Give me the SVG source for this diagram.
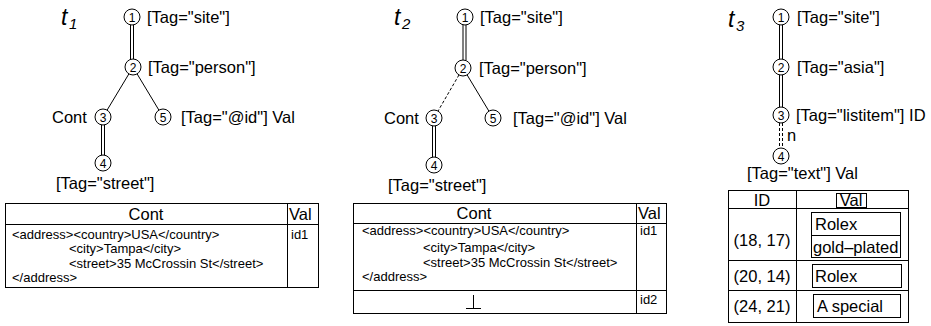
<svg xmlns="http://www.w3.org/2000/svg" width="931" height="326" viewBox="0 0 931 326">
<style>
text{font-family:"Liberation Sans",Arial,sans-serif;fill:#000}
.lbl{font-size:16.5px}
.num{font-size:12px;text-anchor:middle}
.tt{font-size:23px;font-style:italic}
.sub{font-size:15px;font-style:italic}
.cell{font-size:13px}
.hd{font-size:16.5px;text-anchor:middle}
.c{font-size:16.5px;text-anchor:middle}
circle{fill:#fff;stroke:#000;stroke-width:1}
.e{stroke:#000;stroke-width:1;fill:none}
.d{stroke:#000;stroke-width:1;fill:none;stroke-dasharray:3,2}
.b{fill:none;stroke:#000;stroke-width:1}
</style>
<g id="connectors">
<!-- t1 -->
<line class="e" x1="130.5" y1="25" x2="130.5" y2="59"/><line class="e" x1="133.5" y1="25" x2="133.5" y2="59"/>
<line class="e" x1="128.9" y1="73.9" x2="107.1" y2="110.1"/>
<line class="e" x1="137.1" y1="73.9" x2="158.9" y2="110.1"/>
<line class="e" x1="101.5" y1="125" x2="101.5" y2="155"/><line class="e" x1="104.5" y1="125" x2="104.5" y2="155"/>
<!-- t2 -->
<line class="e" x1="463" y1="25" x2="463" y2="60"/><line class="e" x1="466" y1="25" x2="466" y2="60"/>
<line class="d" x1="459" y1="74.9" x2="438" y2="111.1"/>
<line class="e" x1="467.1" y1="74.9" x2="488.9" y2="111.1"/>
<line class="e" x1="432.5" y1="126" x2="432.5" y2="157"/><line class="e" x1="435.5" y1="126" x2="435.5" y2="157"/>
<!-- t3 -->
<line class="e" x1="779.5" y1="25" x2="779.5" y2="59"/><line class="e" x1="782.5" y1="25" x2="782.5" y2="59"/>
<line class="e" x1="779.5" y1="75" x2="779.5" y2="107"/><line class="e" x1="782.5" y1="75" x2="782.5" y2="107"/>
<line class="d" x1="779.5" y1="123" x2="779.5" y2="148"/><line class="d" x1="782.5" y1="123" x2="782.5" y2="148"/>
</g>
<g id="t1">
<text class="tt" x="61" y="25">t</text><text class="sub" x="69" y="29">1</text>
<g id="t1n1"><circle cx="132" cy="17" r="8"/><text class="num" x="132" y="21.5">1</text><text class="lbl" x="147" y="23">[Tag="site"]</text></g>
<g id="t1n2"><circle cx="133" cy="67" r="8"/><text class="num" x="133" y="71.5">2</text><text class="lbl" x="148" y="73">[Tag="person"]</text></g>
<g id="t1n3"><circle cx="103" cy="117" r="8"/><text class="num" x="103" y="121.5">3</text><text class="lbl" x="52" y="123">Cont</text></g>
<g id="t1n5"><circle cx="163" cy="117" r="8"/><text class="num" x="163" y="121.5">5</text><text class="lbl" x="181" y="123">[Tag="@id"] Val</text></g>
<g id="t1n4"><circle cx="103" cy="163" r="8"/><text class="num" x="103" y="167.5">4</text><text class="lbl" x="56" y="189">[Tag="street"]</text></g>
</g>
<g id="t2">
<text class="tt" x="394" y="25">t</text><text class="sub" x="402" y="29">2</text>
<g id="t2n1"><circle cx="465" cy="17" r="8"/><text class="num" x="465" y="21.5">1</text><text class="lbl" x="480" y="23">[Tag="site"]</text></g>
<g id="t2n2"><circle cx="463" cy="68" r="8"/><text class="num" x="463" y="72.5">2</text><text class="lbl" x="479" y="74">[Tag="person"]</text></g>
<g id="t2n3"><circle cx="434" cy="118" r="8"/><text class="num" x="434" y="122.5">3</text><text class="lbl" x="384" y="124">Cont</text></g>
<g id="t2n5"><circle cx="493" cy="118" r="8"/><text class="num" x="493" y="122.5">5</text><text class="lbl" x="513" y="124">[Tag="@id"] Val</text></g>
<g id="t2n4"><circle cx="434" cy="165" r="8"/><text class="num" x="434" y="169.5">4</text><text class="lbl" x="388" y="191">[Tag="street"]</text></g>
</g>
<g id="t3">
<text class="tt" x="728" y="27">t</text><text class="sub" x="736" y="31">3</text>
<g id="t3n1"><circle cx="781" cy="17" r="8"/><text class="num" x="781" y="21.5">1</text><text class="lbl" x="797" y="23">[Tag="site"]</text></g>
<g id="t3n2"><circle cx="781" cy="67" r="8"/><text class="num" x="781" y="71.5">2</text><text class="lbl" x="797" y="73">[Tag="asia"]</text></g>
<g id="t3n3"><circle cx="781" cy="115" r="8"/><text class="num" x="781" y="119.5">3</text><text class="lbl" x="796" y="121">[Tag="listitem"] ID</text><text class="lbl" x="787" y="141">n</text></g>
<g id="t3n4"><circle cx="781" cy="156" r="8"/><text class="num" x="781" y="160.5">4</text><text class="lbl" x="747" y="179">[Tag="text"] Val</text></g>
</g>
<g id="table1">
<rect class="b" x="5.5" y="203.5" width="313" height="84"/>
<line class="e" x1="5.5" y1="224.5" x2="318.5" y2="224.5"/>
<line class="e" x1="287.5" y1="203.5" x2="287.5" y2="287.5"/>
<text class="hd" x="146" y="220">Cont</text>
<text class="lbl" x="289" y="220">Val</text>
<text class="cell" x="12" y="239">&lt;address&gt;&lt;country&gt;USA&lt;/country&gt;</text>
<text class="cell" x="69" y="253">&lt;city&gt;Tampa&lt;/city&gt;</text>
<text class="cell" x="69" y="268">&lt;street&gt;35 McCrossin St&lt;/street&gt;</text>
<text class="cell" x="12" y="282">&lt;/address&gt;</text>
<text class="cell" x="291" y="239">id1</text>
</g>
<g id="table2">
<rect class="b" x="353.5" y="203.5" width="313" height="110"/>
<line class="e" x1="353.5" y1="223.5" x2="666.5" y2="223.5"/>
<line class="e" x1="353.5" y1="290.5" x2="666.5" y2="290.5"/>
<line class="e" x1="636.5" y1="203.5" x2="636.5" y2="313.5"/>
<text class="hd" x="474" y="219">Cont</text>
<text class="lbl" x="638" y="219">Val</text>
<text class="cell" x="362" y="235">&lt;address&gt;&lt;country&gt;USA&lt;/country&gt;</text>
<text class="cell" x="423" y="252">&lt;city&gt;Tampa&lt;/city&gt;</text>
<text class="cell" x="423" y="267">&lt;street&gt;35 McCrossin St&lt;/street&gt;</text>
<text class="cell" x="362" y="281">&lt;/address&gt;</text>
<text class="cell" x="640" y="235">id1</text>
<text class="cell" x="640" y="304">id2</text>
<line class="e" x1="473.5" y1="295" x2="473.5" y2="308"/>
<line class="e" x1="466" y1="308.5" x2="481" y2="308.5"/>
</g>
<g id="table3">
<rect class="b" x="728.5" y="190.5" width="180" height="132"/>
<line class="e" x1="796.5" y1="190.5" x2="796.5" y2="322.5"/>
<line class="e" x1="728.5" y1="208.5" x2="908.5" y2="208.5"/>
<line class="e" x1="728.5" y1="260.5" x2="908.5" y2="260.5"/>
<line class="e" x1="728.5" y1="290.5" x2="908.5" y2="290.5"/>
<text class="c" x="762" y="206">ID</text>
<rect class="b" x="836.5" y="193.5" width="30" height="14"/>
<text class="c" x="851" y="206">Val</text>
<text class="c" x="762" y="246">(18, 17)</text>
<rect class="b" x="811.5" y="212.5" width="89" height="45"/>
<line class="e" x1="811.5" y1="235.5" x2="900.5" y2="235.5"/>
<text class="lbl" x="815" y="230">Rolex</text>
<text class="lbl" x="813" y="253">gold–plated</text>
<text class="c" x="762" y="282">(20, 14)</text>
<rect class="b" x="812.5" y="264.5" width="89" height="23"/>
<text class="lbl" x="815" y="282">Rolex</text>
<text class="c" x="762" y="312">(24, 21)</text>
<rect class="b" x="813.5" y="294.5" width="87" height="23"/>
<text class="lbl" x="817" y="312">A special</text>
</g>
</svg>
